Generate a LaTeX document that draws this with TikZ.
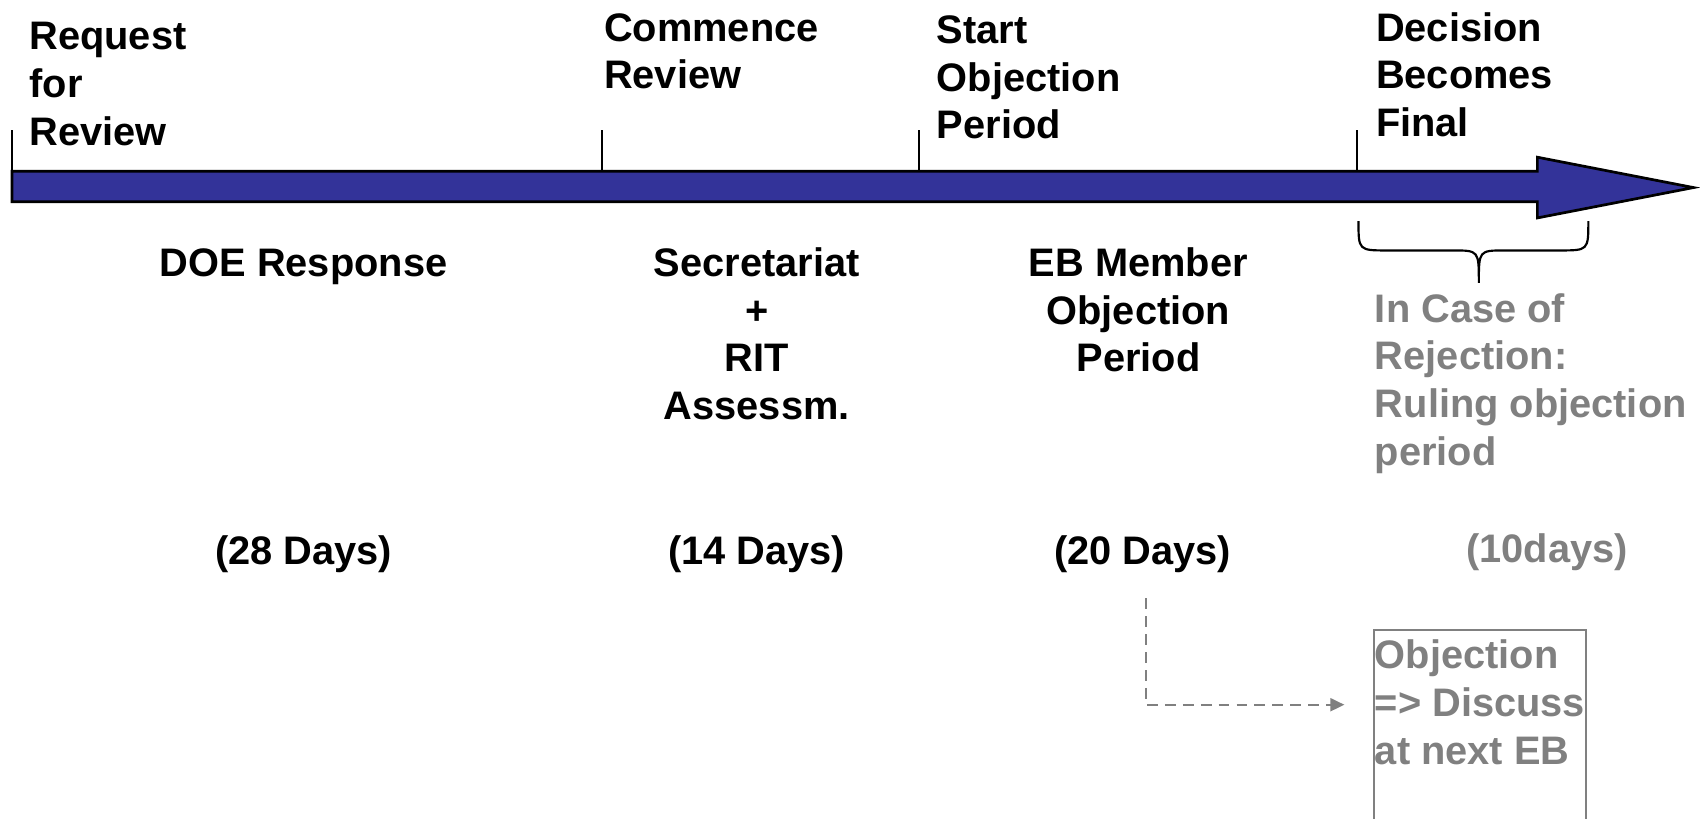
\documentclass[tikz,border=0pt]{standalone}
\usepackage{fontspec}
\setmainfont{Liberation Sans}
\usetikzlibrary{arrows.meta}
\definecolor{arrowblue}{RGB}{51,51,153}
\definecolor{greytxt}{RGB}{128,128,128}
\tikzset{
  big/.style={font=\bfseries\fontsize{36.7}{44}\selectfont, inner sep=0pt},
  toplbl/.style={big, align=left, anchor=north west},
  midlbl/.style={big, align=center, anchor=north},
  greylbl/.style={big, align=left, anchor=north west, text=greytxt},
  tick/.style={line width=1.8pt},
  conn/.style={greytxt, line width=2pt, dash pattern=on 10pt off 6.5pt, -{Triangle[length=13pt,width=12pt]}},
}
\begin{document}
\begin{tikzpicture}[x=1pt,y=-1pt]
\useasboundingbox (0,0) rectangle (1568,755);
\clip (0,0) rectangle (1568,755);
% timeline arrow
\draw[line width=2.5pt, fill=arrowblue, line join=miter]
  (11,158) -- (1418,158) -- (1418,145) -- (1562,173) -- (1418,201) -- (1418,186) -- (11,186) -- cycle;
% ticks
\foreach \x in {11,555,848,1252}{\draw[tick] (\x,120) -- (\x,158);}
% top labels
\node[toplbl] (req) at (27,15) {\strut Request\\for\\Review};
\node[toplbl] (com) at (557,7) {\strut Commence\\Review};
\node[toplbl] (sop) at (864,9) {\strut Start\\Objection\\Period};
\node[toplbl] (dbf) at (1269,7) {\strut Decision\\Becomes\\Final};
% brace
\draw[line width=2pt] (1253,204) .. controls (1253,231) .. (1280,231) -- (1340,231)
  .. controls (1364,231) .. (1364,261) .. controls (1364,231) .. (1388,231) -- (1438,231)
  .. controls (1465,231) .. (1465,204);
% middle labels
\node[midlbl] (doe) at (280,224) {\strut DOE Response};
\node[midlbl] (sec) at (698,224) {\strut Secretariat\\+\\RIT\\Assessm.};
\node[midlbl] (ebm) at (1050,224) {\strut EB Member\\Objection\\Period};
\node[greylbl] (rej) at (1268,266) {\strut In Case of\\Rejection:\\Ruling objection\\period};
% days
\node[midlbl] (d28) at (280,490) {\strut (28 Days)};
\node[midlbl] (d14) at (698,490) {\strut (14 Days)};
\node[midlbl] (d20) at (1054,490) {\strut (20 Days)};
\node[midlbl, text=greytxt] (d10) at (1427,488) {\strut (10days)};
% objection box
\node[draw=greytxt, line width=2pt, anchor=north west, minimum width=196pt, minimum height=230pt, inner sep=0pt] (objbox) at (1266,580) {};
\node[greylbl] (objtxt) at (1268,586) {\strut Objection\\=> Discuss\\at next EB};
% dashed connector
\coordinate (dstart) at (1057,552);
\coordinate (dend) at (1240,650);
\draw[conn] (dstart) |- (dend);
\end{tikzpicture}
\end{document}
